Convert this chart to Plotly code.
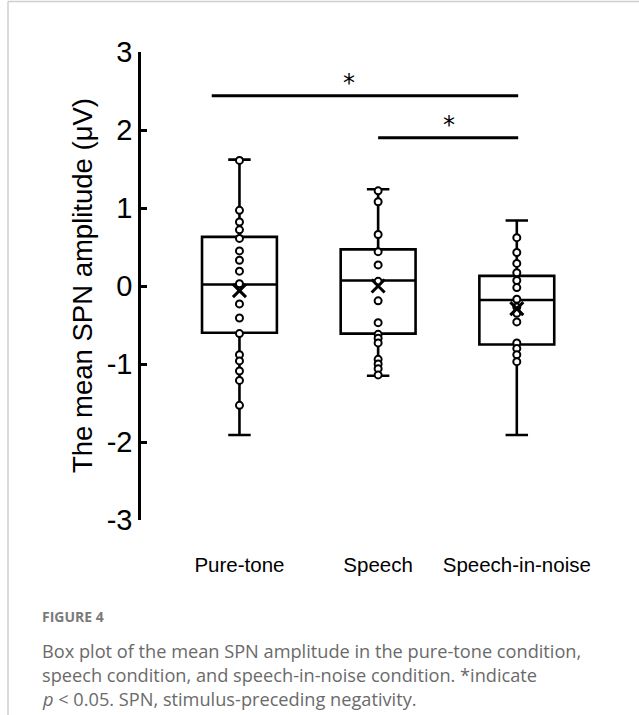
import plotly.graph_objects as go

categories = ["Pure-tone", "Speech", "Speech-in-noise"]
q1 = [-0.60, -0.61, -0.75]
median = [0.02, 0.07, -0.18]
q3 = [0.63, 0.47, 0.13]
lower_whisker = [-1.91, -1.15, -1.91]
upper_whisker = [1.62, 1.24, 0.84]
means = [-0.06, 0.00, -0.29]

pure_tone = [1.61, 0.97, 0.82, 0.72, 0.61, 0.45, 0.33, 0.19, 0.03, -0.23, -0.41,
             -0.61, -0.88, -0.96, -1.09, -1.21, -1.53]
speech = [1.22, 1.08, 0.66, 0.44, 0.27, 0.06, -0.19, -0.47, -0.62, -0.67, -0.73,
          -0.94, -1.00, -1.06, -1.14]
speech_noise = [0.62, 0.43, 0.29, 0.17, 0.07, -0.02, -0.17, -0.27, -0.35, -0.46,
                -0.73, -0.80, -0.88, -0.97]

tick_vals = [-3, -2, -1, 0, 1, 2, 3]
tick_text = ["-3", "-2", "-1", "0", "1", "2", "3"]

# significance brackets: (x start, x end, y) and star positions (x, y)
sig_lines = [(-0.20, 2.01, 2.44), (1.00, 2.01, 1.90)]
sig_stars = [(0.79, 2.60), (1.51, 2.06)]

W, H = 639, 715
ML, MR, MT, MB = 141, 39, 52, 195
PW = W - ML - MR
PH = H - MT - MB


def px(X):
    return (X - ML) / PW


def py(Y):
    return (H - MB - Y) / PH


fig = go.Figure()
xs = list(range(len(categories)))
fig.add_trace(go.Box(
    x=xs, q1=q1, median=median, q3=q3,
    lowerfence=lower_whisker, upperfence=upper_whisker,
    boxpoints=False, width=0.54, whiskerwidth=0.3,
    fillcolor="rgba(255,255,255,0)",
    line=dict(color="black", width=2.6),
    showlegend=False, hoverinfo="skip",
))

px_all, py_all = [], []
for i, vals in enumerate([pure_tone, speech, speech_noise]):
    px_all += [i] * len(vals)
    py_all += vals
fig.add_trace(go.Scatter(
    x=px_all, y=py_all, mode="markers",
    marker=dict(symbol="circle", size=7, color="white",
                line=dict(color="black", width=2)),
    showlegend=False, hoverinfo="skip",
))
fig.add_trace(go.Scatter(
    x=xs, y=means, mode="markers",
    marker=dict(symbol="x-thin", size=13, color="black",
                line=dict(color="black", width=3)),
    showlegend=False, hoverinfo="skip",
))

for x0, x1, y in sig_lines:
    fig.add_shape(type="line", x0=x0, x1=x1, y0=y, y1=y, xref="x", yref="y",
                  line=dict(color="black", width=3))
for sx, sy in sig_stars:
    fig.add_annotation(x=sx, y=sy, xref="x", yref="y", text="*", showarrow=False,
                       font=dict(family="DejaVu Sans", size=24, color="black"))

fig.add_annotation(x=px(82), y=0.5, xref="paper", yref="paper",
                   text="The mean SPN amplitude (μV)", textangle=-90,
                   showarrow=False, xanchor="center", yanchor="middle",
                   font=dict(family="Liberation Sans", size=27.5, color="black"))

cap_font = dict(family="Open Sans", size=18.2, color="#6a6a6a")
fig.add_annotation(x=px(40), y=py(616), xref="paper", yref="paper",
                   text="<b>FIGURE 4</b>", showarrow=False, xanchor="left",
                   yanchor="middle", font=dict(family="Open Sans", size=14, color="#7a7a7a"))
cap_lines = [
    "Box plot of the mean SPN amplitude in the pure-tone condition,",
    "speech condition, and speech-in-noise condition. *indicate",
    "<i>p</i> &lt; 0.05. SPN, stimulus-preceding negativity.",
]
for j, t in enumerate(cap_lines):
    fig.add_annotation(x=px(40), y=py(651 + 24 * j), xref="paper", yref="paper",
                       text=t, showarrow=False, xanchor="left", yanchor="middle",
                       font=cap_font)

# card border (top and left)
fig.add_shape(type="line", xref="paper", yref="paper", x0=px(8), x1=px(640),
              y0=py(1.5), y1=py(1.5), line=dict(color="#cfcfcf", width=1.5))
fig.add_shape(type="line", xref="paper", yref="paper", x0=px(8), x1=px(8),
              y0=py(1.5), y1=py(716), line=dict(color="#cfcfcf", width=1.5))

fig.update_xaxes(range=[-0.71, 2.60], tickvals=xs, ticktext=categories,
                 showgrid=False, zeroline=False, showline=False, ticks="",
                 ticklabelstandoff=30,
                 tickfont=dict(family="Liberation Sans", size=20.5, color="black"))
fig.update_yaxes(range=[-3, 3], tickvals=tick_vals, ticktext=tick_text,
                 showgrid=False, zeroline=False, showline=True, linecolor="black",
                 linewidth=2.5, ticks="inside", ticklen=6, tickwidth=2.5,
                 tickcolor="black", ticklabelstandoff=0,
                 tickfont=dict(family="Liberation Sans", size=29, color="black"))
fig.update_layout(width=W, height=H, margin=dict(l=ML, r=MR, t=MT, b=MB),
                  plot_bgcolor="white", paper_bgcolor="white")
fig.write_html("out.html")
